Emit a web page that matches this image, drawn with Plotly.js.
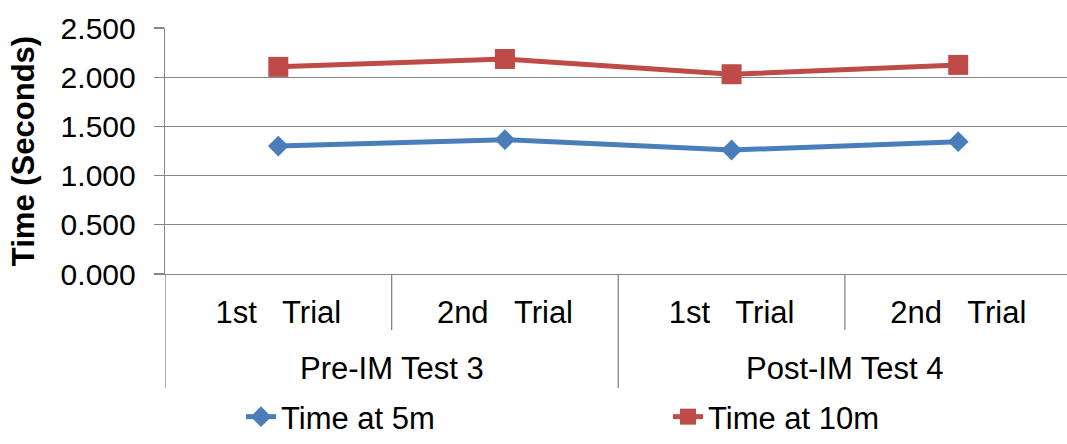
<!DOCTYPE html>
<html>
<head>
<meta charset="utf-8">
<script src="https://cdn.plot.ly/plotly-3.0.1.min.js"></script>
<style>
  html, body { margin: 0; padding: 0; background: #fff; }
  #chart { width: 1067px; height: 444px; }
</style>
</head>
<body>
<div id="chart"></div>
<script>
// Trial labels (first axis level) and test groups (second axis level)
const trials = ['1st   Trial', '2nd   Trial', '1st   Trial', '2nd   Trial'];
const groups = ['Pre-IM Test 3', 'Post-IM Test 4'];
const trialsPerGroup = 2;

// Sprint times in seconds
const time5m = [1.300, 1.365, 1.260, 1.345];
const time10m = [2.105, 2.185, 2.030, 2.125];

const yTicks = [0, 0.5, 1, 1.5, 2, 2.5];

const FONT = 'Liberation Sans, Arial, sans-serif';
const GRID = '#868686';
const BLUE = '#4A7EBB';
const RED = '#BE4B48';

const xPos = trials.map((_, i) => i);

const traces = [
  {
    x: xPos, y: time5m, name: 'Time at 5m', type: 'scatter', mode: 'lines+markers',
    line: { color: BLUE, width: 5 },
    marker: { symbol: 'diamond', size: 16, color: BLUE },
    legend: 'legend'
  },
  {
    x: xPos, y: time10m, name: 'Time at 10m', type: 'scatter', mode: 'lines+markers',
    line: { color: RED, width: 5 },
    marker: { symbol: 'square', size: 20, color: RED },
    legend: 'legend2'
  }
];

// Plot area: 246 px tall; offsets below the axis expressed in paper units
const plotH = 246;
const below = px => -px / plotH;

const shapes = [];
const lineStyle = { color: GRID, width: 1.3 };
// y-axis line continues down through both label rows
shapes.push({ type: 'line', xref: 'x', yref: 'paper', x0: -0.5, x1: -0.5, y0: 0, y1: below(114), line: lineStyle });
// dividers between trials (first row) and between groups (both rows)
for (let i = 1; i < trials.length; i++) {
  const groupEdge = i % trialsPerGroup === 0;
  shapes.push({
    type: 'line', xref: 'x', yref: 'paper', x0: i - 0.5, x1: i - 0.5,
    y0: 0, y1: groupEdge ? below(114) : below(56), line: lineStyle
  });
}

const annotations = groups.map((g, gi) => ({
  text: g, xref: 'x', yref: 'paper',
  x: gi * trialsPerGroup + (trialsPerGroup - 1) / 2,
  y: below(94), yanchor: 'middle', xanchor: 'center', showarrow: false,
  font: { family: FONT, size: 31, color: '#000' }
}));

// One legend box per series so the two entries sit far apart on one row
const legendBase = {
  orientation: 'h', xref: 'container', yref: 'container',
  xanchor: 'left', y: 0, yanchor: 'bottom',
  bgcolor: 'rgba(0,0,0,0)',
  font: { family: FONT, size: 31, color: '#000' }
};

const layout = {
  width: 1067, height: 444,
  margin: { l: 165, r: 0, t: 28, b: 170, autoexpand: false },
  paper_bgcolor: '#fff', plot_bgcolor: '#fff',
  font: { family: FONT, color: '#000' },
  showlegend: true,
  legend: Object.assign({}, legendBase, { x: 241 / 1067 }),
  legend2: Object.assign({}, legendBase, { x: 668 / 1067 }),
  xaxis: {
    range: [-0.5, 3.48], tickmode: 'array', tickvals: xPos, ticktext: trials,
    showgrid: false, zeroline: false, showline: true, linecolor: GRID, linewidth: 1.3,
    ticks: '', ticklabelstandoff: 10, automargin: false,
    tickfont: { family: FONT, size: 31, color: '#000' }, fixedrange: true
  },
  yaxis: {
    range: [0, 2.5], tickmode: 'array', tickvals: yTicks, tickformat: '.3f',
    showgrid: true, gridcolor: GRID, gridwidth: 1.3, zeroline: false,
    showline: true, linecolor: GRID, linewidth: 1.3,
    ticks: 'outside', ticklen: 10, tickcolor: GRID, tickwidth: 1.3,
    ticklabelstandoff: 12, automargin: false,
    tickfont: { family: FONT, size: 30, color: '#000' },
    title: { text: '<b>Time (Seconds)</b>', font: { family: FONT, size: 31, color: '#000' }, standoff: 16 },
    fixedrange: true
  },
  shapes: shapes,
  annotations: annotations
};

Plotly.newPlot('chart', traces, layout, { displayModeBar: false, staticPlot: true });
</script>
</body>
</html>
